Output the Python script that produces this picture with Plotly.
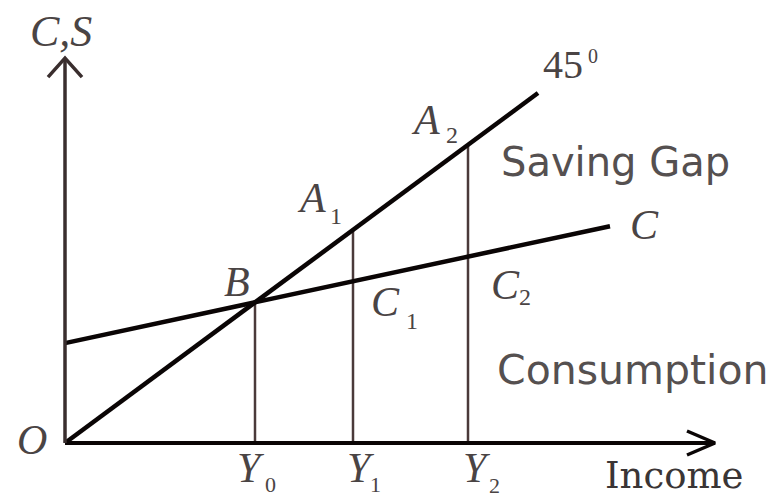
import plotly.graph_objects as go

# ---- data (model units: income on x, C,S on y) ----
income_levels = [19.0, 28.8, 40.3]          # Y0, Y1, Y2
income_subs = ["0", "1", "2"]
consumption_at_income = [19.0, 21.85, 25.2]  # B, C1, C2 on the C line
line45_x = [0.0, 47.3]
line45_y = [0.0, 47.3]
c_line_x = [0.0, 54.5]
c_line_y = [13.5, 29.3]
x_axis_end = 65.0
y_axis_end = 52.0

# pixel scale of the drawing (px per unit)
SX, SY = 10.0, 7.4
X0PX, Y0PX = 65.0, 443.0
W, H = 775, 498

BLACK = "#0a0505"
VCOL = "#4a3a3a"
TXT = "#4a4444"
SERIF = "Liberation Serif, Times New Roman, serif"

fig = go.Figure()

# vertical income lines
for yv, top in zip(income_levels, [consumption_at_income[0]] + income_levels[1:]):
    fig.add_trace(go.Scatter(x=[yv, yv], y=[0, top], mode="lines",
                             line=dict(color=VCOL, width=2.5), hoverinfo="skip"))

# 45 degree line and consumption line
fig.add_trace(go.Scatter(x=line45_x, y=line45_y, mode="lines",
                         line=dict(color=BLACK, width=4.5), hoverinfo="skip"))
fig.add_trace(go.Scatter(x=c_line_x, y=c_line_y, mode="lines",
                         line=dict(color=BLACK, width=4.5), hoverinfo="skip"))

# axes
fig.add_trace(go.Scatter(x=[0, x_axis_end], y=[0, 0], mode="lines",
                         line=dict(color=BLACK, width=4), hoverinfo="skip"))
fig.add_trace(go.Scatter(x=[0, 0], y=[0, y_axis_end], mode="lines",
                         line=dict(color="#3a2e2e", width=3.5), hoverinfo="skip"))
# arrow heads (open V)
ax_back, ax_half = 28 / SX, 12 / SY
fig.add_trace(go.Scatter(x=[x_axis_end - ax_back, x_axis_end, x_axis_end - ax_back],
                         y=[ax_half, 0, -ax_half], mode="lines",
                         line=dict(color=BLACK, width=3.5), hoverinfo="skip"))
ay_back, ay_half = 19 / SY, 17 / SX
fig.add_trace(go.Scatter(x=[-ay_half, 0, ay_half],
                         y=[y_axis_end - ay_back, y_axis_end, y_axis_end - ay_back], mode="lines",
                         line=dict(color="#3a2e2e", width=3.5), hoverinfo="skip"))

ann = []


def lab(x, y, text, dx, dy, size, italic=True, family=SERIF, color=TXT):
    t = f"<i>{text}</i>" if italic else text
    ann.append(dict(x=x, y=y, xref="x", yref="y", text=t, showarrow=False,
                    xshift=dx, yshift=dy, xanchor="center", yanchor="middle",
                    font=dict(family=family, size=size, color=color)))


LET = 42
SUB = 24

# origin
lab(0, 0, "O", -33, 3, LET)
# Y labels
y_lab_off = [(-4, -25, 15, -41), (8, -25, 22, -41), (9, -25, 26, -42)]
for yv, s, (dx, dy, sdx, sdy) in zip(income_levels, income_subs, y_lab_off):
    lab(yv, 0, "Y", dx, dy, LET)
    lab(yv, 0, s, sdx, sdy, 22, italic=False)
# A points on 45 line
lab(income_levels[1], income_levels[1], "A", -42, 32, LET)
lab(income_levels[1], income_levels[1], "1", -17, 14, SUB, italic=False)
lab(income_levels[2], income_levels[2], "A", -43, 25, LET)
lab(income_levels[2], income_levels[2], "2", -16, 10, SUB, italic=False)
# B
lab(income_levels[0], consumption_at_income[0], "B", -18, 20, LET)
# C1, C2
lab(income_levels[1], consumption_at_income[1], "C", 32, -21, LET)
lab(income_levels[1], consumption_at_income[1], "1", 59, -40, SUB, italic=False)
lab(income_levels[2], consumption_at_income[2], "C", 37, -28, LET)
lab(income_levels[2], consumption_at_income[2], "2", 57, -40, SUB, italic=False)
# line end labels
lab(c_line_x[1], c_line_y[1], "C", 34, 1, LET)
lab(line45_x[1], line45_y[1], "45", 25, 28, 40, italic=False)
lab(line45_x[1], line45_y[1], "0", 55, 37, 20, italic=False)
# axis titles
lab(0, y_axis_end, "C,S", -4, 27, 44)
lab(x_axis_end, 0, "Income", -41, -32, 37, italic=False, family="DejaVu Serif, serif", color="#3a3535")
# region labels
lab(55.0, 38.0, "Saving Gap", 0, 0, 40, italic=False, family="DejaVu Sans, sans-serif", color="#555050")
lab(56.8, 9.86, "Consumption", 0, 0, 41, italic=False, family="DejaVu Sans, sans-serif", color="#555050")

xr = [-X0PX / SX, (W - X0PX) / SX]
yr = [(Y0PX - H) / SY, Y0PX / SY]

fig.update_layout(
    width=W, height=H, margin=dict(l=0, r=0, t=0, b=0),
    paper_bgcolor="white", plot_bgcolor="white", showlegend=False,
    xaxis=dict(range=xr, visible=False, fixedrange=True),
    yaxis=dict(range=yr, visible=False, fixedrange=True),
    annotations=ann,
)

fig.write_html("out.html", config={"displayModeBar": False},
               post_script="document.body.style.margin='0';document.body.style.padding='0';"
                           "document.documentElement.style.overflow='hidden';")
